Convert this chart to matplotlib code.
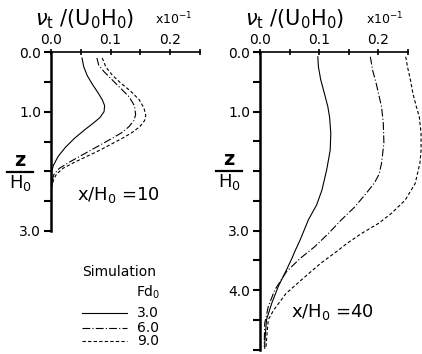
import matplotlib
matplotlib.use("Agg")
import matplotlib.pyplot as plt
from matplotlib.lines import Line2D

# ---------------- data ----------------
# x/H0 = 10 panel
z10_solid = [0.1, 0.25, 0.4, 0.55, 0.7, 0.8, 0.9, 1.0, 1.1, 1.2, 1.3, 1.45, 1.6, 1.75, 1.9, 2.0, 2.1, 2.2]
v10_solid = [0.052, 0.055, 0.061, 0.070, 0.080, 0.086, 0.090, 0.089, 0.082, 0.070, 0.057, 0.039, 0.024, 0.012, 0.004, 0.001, 0.001, 0.002]
z10_dashdot = [0.1, 0.22, 0.33, 0.47, 0.61, 0.75, 0.9, 1.05, 1.15, 1.25, 1.35, 1.45, 1.55, 1.65, 1.75, 1.85, 1.95, 2.05, 2.15, 2.22]
v10_dashdot = [0.077, 0.080, 0.089, 0.103, 0.117, 0.131, 0.140, 0.142, 0.139, 0.131, 0.119, 0.102, 0.084, 0.066, 0.048, 0.030, 0.014, 0.005, 0.002, 0.002]
z10_dashed = [0.1, 0.25, 0.39, 0.52, 0.66, 0.8, 0.94, 1.06, 1.15, 1.25, 1.35, 1.45, 1.55, 1.65, 1.75, 1.85, 1.95, 2.05, 2.15, 2.25]
v10_dashed = [0.086, 0.092, 0.103, 0.117, 0.134, 0.148, 0.156, 0.159, 0.157, 0.149, 0.136, 0.119, 0.100, 0.081, 0.060, 0.039, 0.020, 0.009, 0.004, 0.002]

# x/H0 = 40 panel
z40_solid = [0.08, 0.25, 0.47, 0.69, 0.92, 1.1, 1.37, 1.65, 1.98, 2.32, 2.57, 2.82, 3.16, 3.33,
             3.47, 3.66, 3.94, 4.22, 4.5, 4.9, 4.98]
v40_solid = [0.098, 0.099, 0.103, 0.109, 0.115, 0.118, 0.120, 0.119, 0.113, 0.105, 0.096, 0.082,
             0.068, 0.060, 0.054, 0.045, 0.031, 0.020, 0.011, 0.008, 0.008]
z40_dashdot = [0.08, 0.31, 0.53, 0.75, 0.92, 1.2, 1.53, 1.87, 2.05, 2.2, 2.35, 2.6, 2.82, 3.05, 3.27,
               3.47, 3.69, 4.0, 4.28, 4.56, 4.95]
v40_dashdot = [0.187, 0.191, 0.197, 0.202, 0.206, 0.209, 0.210, 0.206, 0.202, 0.194, 0.182, 0.161, 0.138,
               0.116, 0.093, 0.068, 0.045, 0.025, 0.014, 0.008, 0.007]
z40_dashed = [0.08, 0.25, 0.47, 0.69, 0.92, 1.09, 1.37, 1.65, 1.87, 2.21, 2.49, 2.71, 2.88, 3.05,
              3.22, 3.33, 3.44, 3.55, 3.78, 4.06, 4.34, 4.5, 4.84, 4.98]
v40_dashed = [0.247, 0.250, 0.255, 0.259, 0.265, 0.270, 0.273, 0.273, 0.271, 0.263, 0.246, 0.223,
              0.201, 0.172, 0.147, 0.133, 0.118, 0.103, 0.076, 0.044, 0.023, 0.014, 0.011, 0.010]

fd_labels = ["3.0", "6.0", "9.0"]
panel_labels = ["x/H$_0$ =10", "x/H$_0$ =40"]

# ---------------- style ----------------
W, H = 422, 354
fig = plt.figure(figsize=(W / 100, H / 100), dpi=100)
plt.rcParams['font.family'] = ['DejaVu Sans']

styles = [dict(ls='-'), dict(ls=(0, (7, 2, 1, 2))), dict(ls=(0, (3, 2)))]
lw = 0.8


def fx(px):
    return px / W


def fy(py):
    return 1 - py / H


def setup(ax, zmax, ylabels):
    ax.set_xlim(0, 0.25)
    ax.set_ylim(zmax, 0)
    for s in ['right', 'bottom']:
        ax.spines[s].set_visible(False)
    ax.spines['left'].set_linewidth(1.8)
    ax.spines['top'].set_linewidth(1.2)
    ax.xaxis.set_ticks_position('top')
    ax.xaxis.set_label_position('top')
    xt = [0, 0.05, 0.1, 0.15, 0.2, 0.25]
    ax.set_xticks(xt)
    ax.set_xticklabels(['0.0', '', '0.1', '', '0.2', ''])
    yt = [i * 0.5 for i in range(int(zmax * 2) + 1)]
    ax.set_yticks(yt)
    ax.set_yticklabels([f"{t:.1f}" if t in ylabels else '' for t in yt])
    ax.tick_params(axis='x', direction='inout', length=5, width=1.2, pad=1, labelsize=10)
    ax.tick_params(axis='y', direction='out', length=5, width=1.5, pad=2, labelsize=10)
    ax.patch.set_alpha(0)


ax1 = fig.add_axes([fx(51), fy(231), fx(200 - 51), (231 - 52) / H])
ax2 = fig.add_axes([fx(260), fy(349.5), fx(147.5), (349.5 - 52) / H])
setup(ax1, 3.0, [0.0, 1.0, 3.0])
setup(ax2, 5.0, [0.0, 1.0, 3.0, 4.0])

for (z, v), st in zip([(z10_solid, v10_solid), (z10_dashdot, v10_dashdot), (z10_dashed, v10_dashed)], styles):
    ax1.plot(v, z, color='black', lw=lw, clip_on=False, **st)
for (z, v), st in zip([(z40_solid, v40_solid), (z40_dashdot, v40_dashdot), (z40_dashed, v40_dashed)], styles):
    ax2.plot(v, z, color='black', lw=lw, clip_on=False, **st)

# titles
for cx, ex in [(85, 174), (295, 385)]:
    fig.text(fx(cx), fy(19), r'$\nu_{\rm t}$ /(U$_0$H$_0$)', fontsize=15, ha='center', va='center')
    fig.text(fx(ex), fy(19), r'x10$^{-1}$', fontsize=9, ha='center', va='center')

# z/H0 labels
for cx, ly in [(20, 172), (229, 171)]:
    fig.text(fx(cx), fy(ly - 2), 'z', fontsize=14, ha='center', va='bottom', fontweight='bold')
    fig.text(fx(cx), fy(ly + 1), 'H$_0$', fontsize=13, ha='center', va='top')
    fig.add_artist(Line2D([fx(cx - 13), fx(cx + 13)], [fy(ly), fy(ly)], color='black', lw=1.6))

# panel labels
fig.text(fx(77), fy(195), panel_labels[0], fontsize=13, ha='left', va='center')
fig.text(fx(291), fy(312), panel_labels[1], fontsize=13, ha='left', va='center')

# legend
fig.text(fx(119), fy(272), 'Simulation', fontsize=10, ha='center', va='center')
fig.text(fx(160), fy(292), 'Fd$_0$', fontsize=10, ha='right', va='center')
for yy, st, lab in zip([313, 328, 341], styles, fd_labels):
    fig.add_artist(Line2D([fx(82), fx(127)], [fy(yy), fy(yy)], color='black', lw=lw, **st))
    fig.text(fx(137), fy(yy), lab, fontsize=10, ha='left', va='center')

fig.savefig('out.png', dpi=100)
